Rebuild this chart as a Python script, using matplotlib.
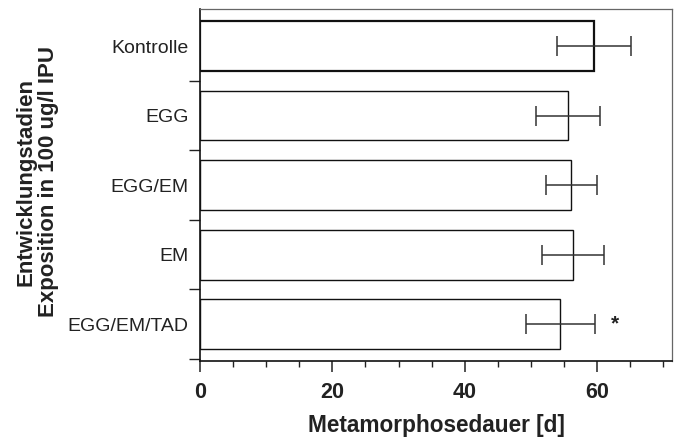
import numpy as np
import matplotlib
matplotlib.use("Agg")
import matplotlib.pyplot as plt
from matplotlib.ticker import MultipleLocator, FixedLocator

plt.rcParams['font.family'] = ['Liberation Sans', 'DejaVu Sans']

groups = ["Kontrolle", "EGG", "EGG/EM", "EM", "EGG/EM/TAD"]
dauer = [59.5, 55.6, 56.1, 56.4, 54.4]
sd = [5.6, 4.8, 3.8, 4.7, 5.2]
signif = ["", "", "", "", "*"]

fig = plt.figure(figsize=(6.77, 4.38), dpi=100)
ax = fig.add_axes([0.2954, 0.1758, 0.6972, 0.803])

pos = np.arange(len(groups))
edge_w = [1.6, 1.0, 1.0, 1.0, 1.0]
ax.barh(pos, dauer, height=0.715, color="white", edgecolor="#111111",
        linewidth=edge_w, zorder=2)
ax.errorbar(dauer, pos, xerr=sd, fmt="none", ecolor="#333333",
            elinewidth=1.1, capsize=7, capthick=1.1, zorder=3)
for p, d, s, txt in zip(pos, dauer, sd, signif):
    if txt:
        ax.text(d + s + 3.1, p, txt, ha="center", va="center",
                fontsize=15, fontweight="bold", color="#222222")

ax.set_xlim(0, 71.3)
ax.set_ylim(len(groups) - 0.47, -0.53)
ax.set_yticks(pos)
ax.set_yticklabels(groups, fontsize=14, color="#222222")
ax.yaxis.set_minor_locator(FixedLocator(np.arange(0.5, len(groups), 1)))
ax.tick_params(axis="y", which="major", length=0, pad=8)
ax.tick_params(axis="y", which="minor", length=8, width=1, color="#222222")

ax.xaxis.set_major_locator(MultipleLocator(20))
ax.xaxis.set_minor_locator(MultipleLocator(5))
ax.tick_params(axis="x", which="major", length=8, width=1.1, color="#222222",
               labelsize=15.5, pad=7)
ax.tick_params(axis="x", which="minor", length=4, width=1, color="#222222")
for lab in ax.get_xticklabels():
    lab.set_fontweight("bold")
    lab.set_color("#222222")

ax.set_xlabel("Metamorphosedauer [d]", fontsize=16.3, fontweight="bold",
              color="#222222")
ax.xaxis.set_label_coords(0.5, -0.152)
ax.set_ylabel("Entwicklungstadien\nExposition in 100 ug/l IPU", fontsize=16,
              fontweight="bold", color="#222222", linespacing=1.12)
ax.yaxis.set_label_coords(-0.298, 0.51)

for side in ["left", "bottom"]:
    ax.spines[side].set_linewidth(1.2)
    ax.spines[side].set_color("#111111")
for side in ["top", "right"]:
    ax.spines[side].set_linewidth(0.9)
    ax.spines[side].set_color("#666666")

fig.savefig("out.png", dpi=100)
